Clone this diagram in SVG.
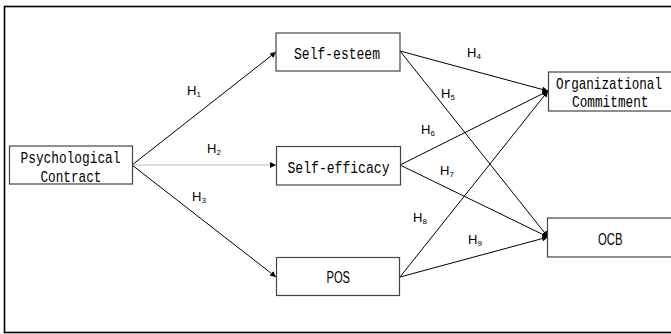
<svg xmlns="http://www.w3.org/2000/svg" width="671" height="334" viewBox="0 0 671 334">
<defs>
<marker id="arr" viewBox="0 0 10 10" refX="10" refY="5" markerWidth="6" markerHeight="6" orient="auto" markerUnits="userSpaceOnUse">
<path d="M0,0 L10,5 L0,10 z" fill="#000"/>
</marker>
<style>
.box{fill:#fff;stroke:#444;stroke-width:1.2}
.t{font-family:"Liberation Mono",monospace;font-size:17px;fill:#000}
.p{font-family:"Liberation Sans",Arial,sans-serif;font-size:16px;fill:#000}
.h{font-family:"Liberation Sans",Arial,sans-serif;font-size:13px;fill:#000}
.s{font-size:8px}
.c{stroke:#000;stroke-width:1;fill:none;marker-end:url(#arr)}
</style>
</defs>
<rect x="0" y="0" width="671" height="334" fill="#fff"/>
<rect x="4.5" y="6.5" width="670" height="326" fill="none" stroke="#000" stroke-width="1.6"/>
<g id="connectors">
<line class="c" x1="132" y1="165" x2="276" y2="52"/>
<line class="c" x1="132" y1="165" x2="276" y2="165" style="stroke:#bbb"/>
<line class="c" x1="132" y1="165" x2="276" y2="277"/>
<line class="c" x1="400" y1="51" x2="548" y2="91"/>
<line class="c" x1="400" y1="51" x2="548" y2="237"/>
<line class="c" x1="400" y1="165" x2="548" y2="91"/>
<line class="c" x1="400" y1="165" x2="548" y2="237"/>
<line class="c" x1="400" y1="277" x2="548" y2="91"/>
<line class="c" x1="400" y1="277" x2="548" y2="237"/>
<text class="h" x="187" y="95">H<tspan class="s" dy="2">1</tspan></text>
<text class="h" x="207" y="153">H<tspan class="s" dy="2">2</tspan></text>
<text class="h" x="192" y="201">H<tspan class="s" dy="2">3</tspan></text>
<text class="h" x="467" y="57">H<tspan class="s" dy="2">4</tspan></text>
<text class="h" x="441" y="98">H<tspan class="s" dy="2">5</tspan></text>
<text class="h" x="421" y="134">H<tspan class="s" dy="2">6</tspan></text>
<text class="h" x="440" y="175">H<tspan class="s" dy="2">7</tspan></text>
<text class="h" x="413" y="222">H<tspan class="s" dy="2">8</tspan></text>
<text class="h" x="468" y="244">H<tspan class="s" dy="2">9</tspan></text>
</g>
<g id="psychological-contract">
<rect class="box" x="9.5" y="146" width="123" height="38"/>
<text class="t" x="20.5" y="163" textLength="100" lengthAdjust="spacingAndGlyphs">Psychological</text>
<text class="t" x="40.5" y="181.5" textLength="61" lengthAdjust="spacingAndGlyphs">Contract</text>
</g>
<g id="self-esteem">
<rect class="box" x="276" y="33" width="124" height="38"/>
<text class="t" x="294" y="59" textLength="86" lengthAdjust="spacingAndGlyphs">Self-esteem</text>
</g>
<g id="self-efficacy">
<rect class="box" x="276.5" y="146.5" width="124" height="38.5"/>
<text class="t" x="287.5" y="173" textLength="102" lengthAdjust="spacingAndGlyphs">Self-efficacy</text>
</g>
<g id="pos">
<rect class="box" x="276.5" y="257.5" width="123" height="38"/>
<text class="p" x="326.5" y="283" textLength="23.5" lengthAdjust="spacingAndGlyphs">POS</text>
</g>
<g id="organizational-commitment">
<rect class="box" x="548.5" y="72" width="130" height="39"/>
<text class="t" x="556" y="88.5" textLength="106" lengthAdjust="spacingAndGlyphs">Organizational</text>
<text class="t" x="572" y="107" textLength="76.5" lengthAdjust="spacingAndGlyphs">Commitment</text>
</g>
<g id="ocb">
<rect class="box" x="547.5" y="218" width="130" height="39"/>
<text class="p" x="598" y="245" textLength="24.5" lengthAdjust="spacingAndGlyphs">OCB</text>
</g>
</svg>
